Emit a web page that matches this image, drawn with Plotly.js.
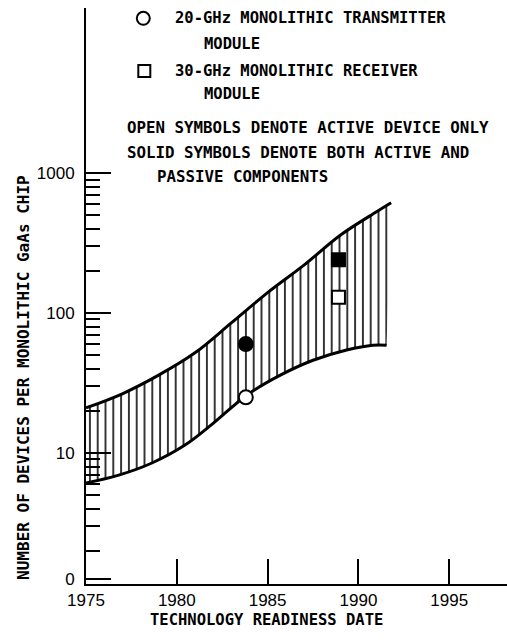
<!DOCTYPE html>
<html>
<head>
<meta charset="utf-8">
<script src="https://cdn.plot.ly/plotly-3.0.1.min.js"></script>
<style>
  html, body { margin: 0; padding: 0; background: #fff; }
  #chart { width: 507px; height: 641px; }
</style>
</head>
<body>
<div id="chart"></div>
<script>
// Upper and lower bounds of the technology band
var upperYears = [1975, 1977, 1979, 1981, 1983, 1985, 1987, 1989, 1991, 1991.8];
var upperVals  = [21, 26.5, 36, 52, 85, 140, 220, 360, 530, 614];
var lowerYears = [1975, 1976.8, 1978.6, 1980.45, 1982.0, 1983.85, 1985.7, 1987.5, 1989.35, 1990.8, 1991.55];
var lowerVals  = [6.1, 6.95, 8.45, 11.4, 16.3, 25.9, 36, 46, 54.5, 59, 59];

// 20-GHz transmitter module: open = active only, solid = active + passive
var txYears = [1983.8, 1983.8];
var txVals  = [25, 60];
var txSolid = [false, true];
// 30-GHz receiver module
var rxYears = [1988.9, 1988.9];
var rxVals  = [130, 240];
var rxSolid = [false, true];

var xTicks = [1975, 1980, 1985, 1990, 1995];
var yTickVals = [1.25, 10, 100, 1000];
var yTickText = ["0", "10", "100", "1000"];
var yMinor = [2,3,4,5,6,7,8,9,20,30,40,50,60,70,80,90,200,300,400,500,600,700,800,900];

var mono = "DejaVu Sans Mono, Liberation Mono, monospace";
var sans = "Liberation Sans, Arial, sans-serif";

var traces = [
  { x: lowerYears, y: lowerVals, mode: "lines", line: { color: "black", width: 3, shape: "spline", smoothing: 1 }, showlegend: false, hoverinfo: "skip" },
  { x: upperYears, y: upperVals, mode: "lines", line: { color: "black", width: 3, shape: "spline", smoothing: 1 },
    fill: "tonexty", fillcolor: "white",
    fillpattern: { shape: "|", size: 7.8, solidity: 0.2, fgcolor: "black", bgcolor: "white", fillmode: "replace" },
    showlegend: false, hoverinfo: "skip" },
  { x: txYears, y: txVals, mode: "markers", showlegend: false,
    marker: { symbol: "circle", size: 14, color: txSolid.map(function(s){ return s ? "black" : "white"; }), line: { color: "black", width: 2 } } },
  { x: rxYears, y: rxVals, mode: "markers", showlegend: false,
    marker: { symbol: "square", size: 13, color: rxSolid.map(function(s){ return s ? "black" : "white"; }), line: { color: "black", width: 2 } } }
];

function note(text, x, y, size) {
  return { text: text, xref: "paper", yref: "paper", x: x, y: y, xanchor: "left", yanchor: "middle",
           showarrow: false, font: { family: mono, size: size || 15.5, color: "black", weight: "bold" } };
}

var layout = {
  width: 507, height: 641,
  margin: { l: 86, r: 0, t: 8, b: 57 },
  paper_bgcolor: "white", plot_bgcolor: "white",
  xaxis: {
    range: [1975, 1998.18], showgrid: false, zeroline: false,
    showline: true, linecolor: "black", linewidth: 2,
    tickvals: xTicks, ticks: "inside", ticklen: 25, tickwidth: 2, tickcolor: "black",
    tickfont: { family: sans, size: 17, color: "black" }, ticklabelstandoff: 0
  },
  yaxis: {
    type: "log", range: [0.064, 4.18], showgrid: false, zeroline: false,
    showline: true, linecolor: "black", linewidth: 2,
    tickvals: yTickVals, ticktext: yTickText, ticks: "inside", ticklen: 25, tickwidth: 2, tickcolor: "black",
    tickfont: { family: sans, size: 17, color: "black" }, ticklabelstandoff: 6,
    minor: { tickvals: yMinor, ticks: "inside", ticklen: 14, tickwidth: 2, tickcolor: "black", showgrid: false }
  },
  shapes: [
    { type: "circle", xref: "paper", yref: "paper", xsizemode: "pixel", ysizemode: "pixel",
      xanchor: 0.1361, yanchor: 0.9821, x0: -6.5, x1: 6.5, y0: -6.5, y1: 6.5, line: { color: "black", width: 2 } },
    { type: "rect", xref: "paper", yref: "paper", xsizemode: "pixel", ysizemode: "pixel",
      xanchor: 0.1385, yanchor: 0.8906, x0: -6, x1: 6, y0: -6, y1: 6, line: { color: "black", width: 2 } }
  ],
  annotations: [
    note("20-GHz MONOLITHIC TRANSMITTER", 0.2067, 0.9821),
    note("MODULE", 0.2748, 0.9375),
    note("30-GHz MONOLITHIC RECEIVER", 0.2067, 0.8906),
    note("MODULE", 0.2748, 0.8507),
    note("OPEN SYMBOLS DENOTE ACTIVE DEVICE ONLY", 0.0926, 0.7934, 15.8),
    note("SOLID SYMBOLS DENOTE BOTH ACTIVE AND", 0.0926, 0.75, 15.8),
    note("PASSIVE COMPONENTS", 0.1639, 0.7083, 15.8),
    { text: "NUMBER OF DEVICES PER MONOLITHIC GaAs CHIP", xref: "paper", yref: "paper", x: -0.1487, y: 0.3585,
      xanchor: "center", yanchor: "middle", textangle: -90, showarrow: false,
      font: { family: mono, size: 16, color: "black", weight: "bold" } },
    { text: "TECHNOLOGY READINESS DATE", xref: "paper", yref: "paper", x: 0.4287, y: -0.0625,
      xanchor: "center", yanchor: "middle", showarrow: false,
      font: { family: mono, size: 15.5, color: "black", weight: "bold" } }
  ]
};

Plotly.newPlot("chart", traces, layout, { staticPlot: true, displayModeBar: false });
</script>
</body>
</html>
